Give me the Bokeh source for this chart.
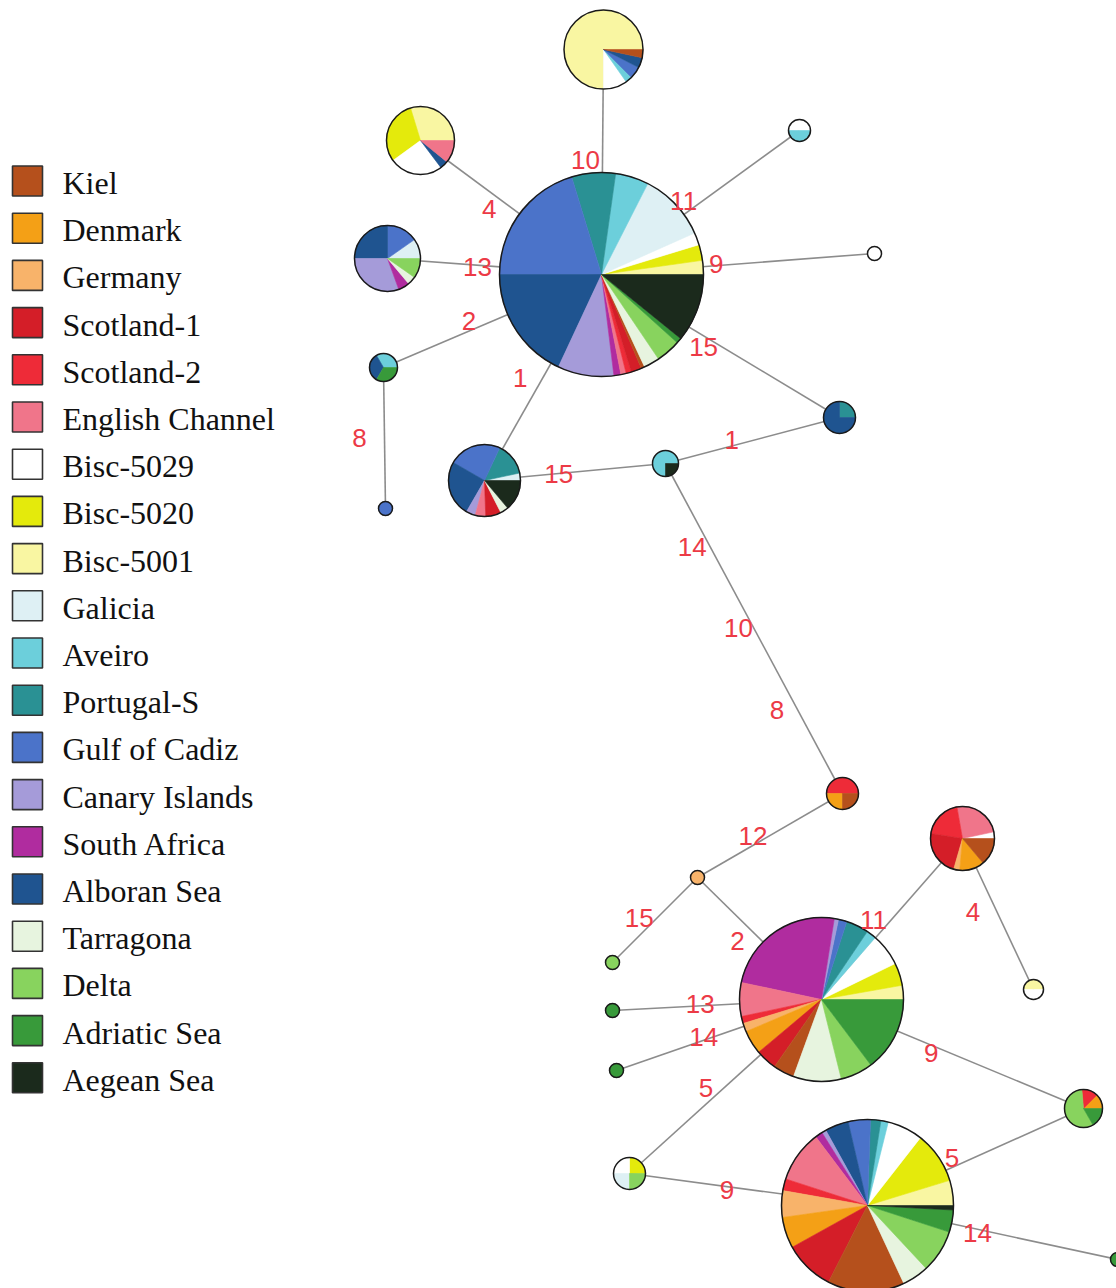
import math
from bokeh.plotting import figure
from bokeh.models import Range1d, ColumnDataSource
from bokeh.core.properties import value
from bokeh.embed import file_html
from bokeh.resources import INLINE

# ---------------- populations (legend) ----------------
POPULATIONS = ["Kiel", "Denmark", "Germany", "Scotland-1", "Scotland-2", "English Channel",
               "Bisc-5029", "Bisc-5020", "Bisc-5001", "Galicia", "Aveiro", "Portugal-S",
               "Gulf of Cadiz", "Canary Islands", "South Africa", "Alboran Sea", "Tarragona",
               "Delta", "Adriatic Sea", "Aegean Sea"]
POP_COLORS = ["#b5501c", "#f4a016", "#f8b36a", "#d41e28", "#ee2b38", "#f0758a",
              "#ffffff", "#e4ea0c", "#f9f6a2", "#def0f4", "#6ccfdb", "#2a9194",
              "#4b73c9", "#a59bd9", "#b02c9f", "#1f5490", "#e7f4df",
              "#88d35e", "#389a3a", "#1b2a1c"]

# ---------------- haplotype nodes (layout in page pixels) ----------------
HAPLOTYPES = ["H1", "H2", "H3", "H4", "H5", "H6", "H7", "H8", "H9", "H10", "H11", "H12",
              "H13", "H14", "H15", "H16", "H17", "H18", "H19", "H20", "H21", "H22", "H23"]
HAP_X = [601, 603, 420, 387, 383, 385, 484, 665, 839, 799, 874, 842,
         697, 962, 1033, 821, 612, 612, 616, 629, 1083, 867, 1117]
HAP_Y = [274, 49, 140, 258, 367, 508, 480, 463, 417, 130, 253, 793,
         877, 838, 989, 999, 962, 1010, 1070, 1173, 1108, 1205, 1259]
HAP_R = [102, 39.5, 34, 33, 14, 7, 36, 13, 16, 11, 7, 16,
         7, 32, 10, 82, 7, 7, 7, 16, 19, 86, 7]

# composition of each haplotype (populations in drawing order, counter-clockwise from east)
H1_POPS = ["Bisc-5001", "Bisc-5020", "Bisc-5029", "Galicia", "Aveiro", "Portugal-S", "Gulf of Cadiz",
           "Alboran Sea", "Canary Islands", "South Africa", "English Channel", "Scotland-2",
           "Scotland-1", "Kiel", "Tarragona", "Delta", "Adriatic Sea", "Aegean Sea"]
H1_COUNTS = [8, 9, 7, 39, 19, 25, 73, 65, 32, 4, 3, 3, 6, 2, 9, 14, 3, 39]
H2_POPS = ["Bisc-5001", "Bisc-5029", "Aveiro", "Gulf of Cadiz", "Alboran Sea", "Kiel"]
H2_COUNTS = [270, 35, 10, 18, 15, 12]
H3_POPS = ["Bisc-5001", "Bisc-5020", "Bisc-5029", "Alboran Sea", "English Channel"]
H3_COUNTS = [107, 109, 91, 14, 39]
H4_POPS = ["Galicia", "Gulf of Cadiz", "Alboran Sea", "Canary Islands", "South Africa", "Tarragona", "Delta"]
H4_COUNTS = [35, 55, 90, 110, 20, 15, 35]
H5_POPS = ["Aveiro", "Alboran Sea", "Adriatic Sea"]
H5_COUNTS = [1, 1, 1]
H6_POPS = ["Gulf of Cadiz"]
H6_COUNTS = [1]
H7_POPS = ["Galicia", "Portugal-S", "Gulf of Cadiz", "Alboran Sea", "Canary Islands",
           "English Channel", "Scotland-1", "Tarragona", "Aegean Sea"]
H7_COUNTS = [12, 53, 85, 90, 15, 17, 25, 13, 50]
H8_POPS = ["Aveiro", "Aegean Sea"]
H8_COUNTS = [3, 1]
H9_POPS = ["Portugal-S", "Alboran Sea"]
H9_COUNTS = [1, 3]
H10_POPS = ["Bisc-5029", "Aveiro"]
H10_COUNTS = [1, 1]
H11_POPS = ["Bisc-5029"]
H11_COUNTS = [1]
H12_POPS = ["Scotland-2", "Denmark", "Kiel"]
H12_COUNTS = [2, 1, 1]
H13_POPS = ["Germany"]
H13_COUNTS = [1]
H14_POPS = ["Bisc-5029", "English Channel", "Scotland-2", "Scotland-1", "Germany", "Denmark", "Kiel"]
H14_COUNTS = [12, 88, 71, 83, 11, 45, 50]
H15_POPS = ["Bisc-5001", "Bisc-5029"]
H15_COUNTS = [1, 1]
H16_POPS = ["Bisc-5001", "Bisc-5020", "Bisc-5029", "Aveiro", "Portugal-S", "Gulf of Cadiz",
            "Canary Islands", "South Africa", "English Channel", "Scotland-2", "Germany",
            "Denmark", "Scotland-1", "Kiel", "Tarragona", "Delta", "Adriatic Sea"]
H16_COUNTS = [10, 16, 23, 7, 16, 6, 3, 87, 24, 5, 6, 17, 15, 15, 34, 23, 53]
H17_POPS = ["Delta"]
H17_COUNTS = [1]
H18_POPS = ["Adriatic Sea"]
H18_COUNTS = [1]
H19_POPS = ["Adriatic Sea"]
H19_COUNTS = [1]
H20_POPS = ["Bisc-5020", "Bisc-5029", "Galicia", "Delta"]
H20_COUNTS = [1, 1, 1, 1]
H21_POPS = ["Denmark", "Scotland-2", "Delta", "Adriatic Sea"]
H21_COUNTS = [45, 50, 205, 60]
H22_POPS = ["Bisc-5001", "Bisc-5020", "Bisc-5029", "Aveiro", "Portugal-S", "Gulf of Cadiz",
            "Alboran Sea", "Canary Islands", "South Africa", "English Channel", "Scotland-2",
            "Germany", "Denmark", "Scotland-1", "Kiel", "Tarragona", "Delta", "Adriatic Sea",
            "Aegean Sea"]
H22_COUNTS = [17, 35, 24, 5, 7, 15, 16, 3, 5, 35, 8, 18, 21, 34, 52, 18, 29, 15, 3]
H23_POPS = ["Adriatic Sea"]
H23_COUNTS = [1]

COMPOSITION = {
    "H1": (H1_POPS, H1_COUNTS), "H2": (H2_POPS, H2_COUNTS), "H3": (H3_POPS, H3_COUNTS),
    "H4": (H4_POPS, H4_COUNTS), "H5": (H5_POPS, H5_COUNTS), "H6": (H6_POPS, H6_COUNTS),
    "H7": (H7_POPS, H7_COUNTS), "H8": (H8_POPS, H8_COUNTS), "H9": (H9_POPS, H9_COUNTS),
    "H10": (H10_POPS, H10_COUNTS), "H11": (H11_POPS, H11_COUNTS), "H12": (H12_POPS, H12_COUNTS),
    "H13": (H13_POPS, H13_COUNTS), "H14": (H14_POPS, H14_COUNTS), "H15": (H15_POPS, H15_COUNTS),
    "H16": (H16_POPS, H16_COUNTS), "H17": (H17_POPS, H17_COUNTS), "H18": (H18_POPS, H18_COUNTS),
    "H19": (H19_POPS, H19_COUNTS), "H20": (H20_POPS, H20_COUNTS), "H21": (H21_POPS, H21_COUNTS),
    "H22": (H22_POPS, H22_COUNTS), "H23": (H23_POPS, H23_COUNTS),
}

# ---------------- network edges ----------------
EDGE_FROM = ["H1", "H1", "H1", "H1", "H1", "H1", "H1", "H1", "H5", "H7", "H8", "H8",
             "H12", "H13", "H13", "H16", "H14", "H16", "H16", "H16", "H16", "H20", "H22", "H22"]
EDGE_TO = ["H2", "H3", "H10", "H11", "H4", "H5", "H7", "H9", "H6", "H8", "H9", "H12",
           "H13", "H17", "H16", "H14", "H15", "H18", "H19", "H20", "H21", "H22", "H21", "H23"]

# mutation-step labels: edge index, text, position along edge, pixel offset
LABEL_EDGE = [0, 1, 2, 3, 4, 5, 6, 7, 8, 9, 10, 11, 11, 11, 12, 13, 14, 15, 16, 17, 18, 19, 20, 21, 22, 23]
LABEL_TEXT = ["10", "4", "11", "9", "13", "2", "1", "15", "8", "15", "1", "14", "10", "8",
              "12", "15", "2", "11", "4", "13", "14", "5", "9", "9", "5", "14"]
LABEL_T = [0.51, 0.57, 0.45, 0.42, 0.58, 0.59, 0.55, 0.45, 0.50, 0.41, 0.38, 0.23, 0.48, 0.72,
           0.59, 0.58, 0.42, 0.44, 0.43, 0.58, 0.57, 0.56, 0.43, 0.41, 0.41, 0.44]
LABEL_DX = [-17, -9, -7, 0, 0, -4, -17, -5, -25, 0, 0, -14, -12, -16,
            -4, -9, -12, -10, -20, 0, -1, -8, -3, 0, -4, 0]
LABEL_DY = [0, 11, -9, -2, 2, -8, -10, 8, 0, 0, -6, 8, 6, 9,
            -7, -9, 12, -9, 9, -2, -3, -9, 7, 3, -8, 4]

# ---------------- build ----------------
W, H = 1116, 1288
p = figure(width=W, height=H, x_range=Range1d(0, W), y_range=Range1d(-H, 0),
           x_axis_type=None, y_axis_type=None, toolbar_location=None, output_backend="svg",
           min_border=0, outline_line_color=None, background_fill_color="white",
           border_fill_color="white")

pos = {h: (x, -y) for h, x, y in zip(HAPLOTYPES, HAP_X, HAP_Y)}
color_of = dict(zip(POPULATIONS, POP_COLORS))

# edges
ex, ey = [], []
for a, b in zip(EDGE_FROM, EDGE_TO):
    ex.append([pos[a][0], pos[b][0]])
    ey.append([pos[a][1], pos[b][1]])
p.multi_line(xs=ex, ys=ey, line_color="#8c8c8c", line_width=1.6)

# pie wedges
wx, wy, wr, ws, we, wc = [], [], [], [], [], []
for h, r in zip(HAPLOTYPES, HAP_R):
    pops, counts = COMPOSITION[h]
    total = float(sum(counts))
    ang = 0.0
    for pop, c in zip(pops, counts):
        a1 = ang + 2 * math.pi * c / total
        wx.append(pos[h][0]); wy.append(pos[h][1]); wr.append(r)
        ws.append(ang); we.append(a1); wc.append(color_of[pop])
        ang = a1
wsrc = ColumnDataSource(dict(x=wx, y=wy, r=wr, sa=ws, ea=we, color=wc))
p.wedge(x="x", y="y", radius="r", start_angle="sa", end_angle="ea", direction="anticlock",
        fill_color="color", line_color="color", line_width=0.6, source=wsrc)

# outlines
p.circle(x=[pos[h][0] for h in HAPLOTYPES], y=[pos[h][1] for h in HAPLOTYPES], radius=HAP_R,
         fill_color=None, line_color="#1a1a1a", line_width=1.5)

# edge labels
lx, ly = [], []
for ei, t, dx, dy in zip(LABEL_EDGE, LABEL_T, LABEL_DX, LABEL_DY):
    a, b = pos[EDGE_FROM[ei]], pos[EDGE_TO[ei]]
    lx.append(a[0] + t * (b[0] - a[0]) + dx)
    ly.append(a[1] + t * (b[1] - a[1]) - dy)
p.text(x=lx, y=ly, text=LABEL_TEXT, text_color="#ec3a46", text_font=value("Liberation Sans"),
       text_font_size="26px", text_align="center", text_baseline="middle")

# legend
LEG_X, LEG_Y0, LEG_STEP, LEG_SIZE = 27, 180.5, 47.2, 30
leg_y = [-(LEG_Y0 + i * LEG_STEP) for i in range(len(POPULATIONS))]
p.rect(x=[LEG_X] * len(POPULATIONS), y=leg_y, width=LEG_SIZE, height=LEG_SIZE,
       fill_color=POP_COLORS, line_color="#333333", line_width=1.6)
p.text(x=[62] * len(POPULATIONS), y=[v - 2 for v in leg_y], text=POPULATIONS,
       text_color="#111111", text_font=value("Liberation Serif"), text_font_size="32px",
       text_align="left", text_baseline="middle")

open("out.html", "w").write(file_html(p, INLINE))
